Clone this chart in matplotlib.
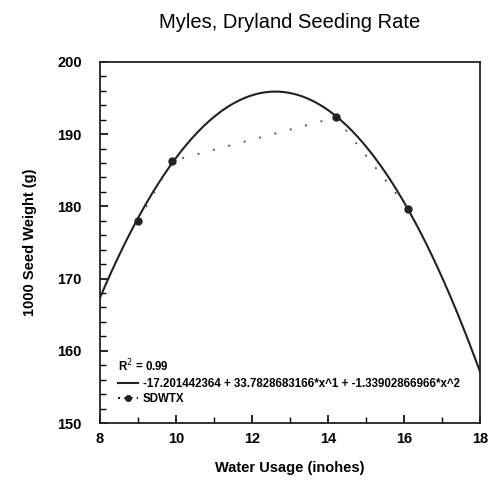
import numpy as np
import matplotlib
matplotlib.use("Agg")
import matplotlib.pyplot as plt
from matplotlib.ticker import MultipleLocator
from matplotlib.lines import Line2D

# observed seed weight vs water usage
water = [9.0, 9.9, 14.2, 16.1]
seed_wt = [178.0, 186.3, 192.3, 179.7]

# quadratic fit coefficients (c0, c1, c2) as printed in the legend
fit_coef = [-17.201442364, 33.7828683166, -1.33902866966]
fit_label = "-17.201442364 + 33.7828683166*x^1 + -1.33902866966*x^2"
r2_label = "R$^2$ = 0.99"
series_label = "SDWTX"

plt.rcParams['font.family'] = ['Liberation Sans', 'DejaVu Sans']

fig = plt.figure(figsize=(4.88, 4.83), dpi=100)
ax = fig.add_axes([0.205, 0.124, 0.779, 0.748])

xs = np.linspace(8, 18, 200)
ys = fit_coef[0] + fit_coef[1] * xs + fit_coef[2] * xs ** 2
ax.plot(xs, ys, color='#222222', lw=1.5)

ax.plot(water, seed_wt, linestyle=(0, (1, 7.8)), color='#444444', lw=1.3)
ax.plot(water, seed_wt, 'o', color='#222222', ms=5, linestyle='none')

ax.set_xlim(8, 18)
ax.set_ylim(150, 200)
ax.xaxis.set_major_locator(MultipleLocator(2))
ax.xaxis.set_minor_locator(MultipleLocator(1))
ax.yaxis.set_major_locator(MultipleLocator(10))
ax.yaxis.set_minor_locator(MultipleLocator(2))
ax.tick_params(which='both', direction='in', top=False, right=False)
ax.tick_params(which='major', length=6, width=1.2, labelsize=10.5)
ax.tick_params(which='minor', length=4, width=1)
ax.tick_params(axis='x', pad=6.5)
ax.tick_params(axis='y', pad=13)
for lab in ax.get_xticklabels() + ax.get_yticklabels():
    lab.set_fontweight('bold')
for s in ax.spines.values():
    s.set_linewidth(1.3)
    s.set_color('#222222')

ax.set_title("Myles, Dryland Seeding Rate", fontsize=14.5, pad=24)
ax.set_xlabel("Water Usage (inohes)", fontsize=10.5, fontweight='bold', labelpad=11)
ax.set_ylabel("1000 Seed Weight (g)", fontsize=10.5, fontweight='bold', labelpad=15)

ax.text(0.047, 0.158, r2_label, transform=ax.transAxes, fontsize=8.3,
        fontweight='bold', va='center', ha='left')
handles = [
    Line2D([], [], color='#222222', lw=1.5),
    Line2D([], [], color='#222222', marker='o', ms=4, linestyle=(0, (1, 2))),
]
ax.legend(handles, [fit_label, series_label], loc='lower left',
          bbox_to_anchor=(0.047, 0.05), frameon=False,
          prop={'size': 8.3, 'weight': 'bold'}, handlelength=1.7,
          borderaxespad=0, borderpad=0, labelspacing=0.25, handletextpad=0.45)

fig.savefig("out.png", dpi=100)
